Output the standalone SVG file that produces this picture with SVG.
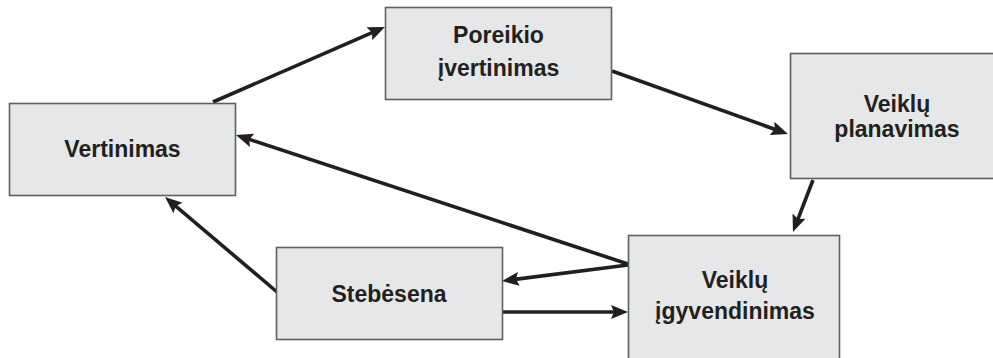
<svg xmlns="http://www.w3.org/2000/svg" width="993" height="358" viewBox="0 0 993 358">
<style>
.box{fill:#e6e7e8;stroke:#5f6062;stroke-width:1.6}
.lbl{font-family:"Liberation Sans",Arial,sans-serif;font-weight:bold;font-size:23px;fill:#231f20;text-anchor:middle}
.con{stroke:#231f20;stroke-width:3.6;fill:none;marker-end:url(#ah)}
</style>
<defs>
<marker id="ah" markerUnits="userSpaceOnUse" markerWidth="20" markerHeight="16" refX="8" refY="7" orient="auto" viewBox="0 0 20 16">
<path d="M0,0 L17,7 L0,14 L3,7 z" fill="#231f20"/>
</marker>
</defs>
<rect width="993" height="358" fill="#ffffff"/>
<g id="connectors">
<line class="con" x1="213" y1="102" x2="376.7" y2="30.6"/>
<line class="con" x1="612" y1="71" x2="779.5" y2="131"/>
<line class="con" x1="813" y1="180" x2="796.2" y2="223.6"/>
<line class="con" x1="628" y1="264" x2="244.5" y2="137.8"/>
<line class="con" x1="628" y1="265" x2="510.9" y2="279.9"/>
<line class="con" x1="502" y1="312" x2="619" y2="312"/>
<line class="con" x1="277" y1="292" x2="171.9" y2="202.8"/>
</g>
<g id="vertinimas">
<rect class="box" x="9.5" y="103.5" width="226" height="92"/>
<text class="lbl" x="122.5" y="157">Vertinimas</text>
</g>
<g id="poreikio">
<rect class="box" x="385.5" y="7.5" width="226" height="92"/>
<text class="lbl" x="498.5" y="43">Poreikio</text>
<text class="lbl" x="498.5" y="76">įvertinimas</text>
</g>
<g id="planavimas">
<rect class="box" x="790.5" y="53.5" width="213" height="125"/>
<text class="lbl" x="897" y="112">Veiklų</text>
<text class="lbl" x="897" y="137">planavimas</text>
</g>
<g id="igyvendinimas">
<rect class="box" x="628.5" y="235.5" width="211" height="130"/>
<text class="lbl" x="735" y="288">Veiklų</text>
<text class="lbl" x="735" y="319">įgyvendinimas</text>
</g>
<g id="stebesena">
<rect class="box" x="276.5" y="247.5" width="226" height="92"/>
<text class="lbl" x="389" y="302">Stebėsena</text>
</g>
</svg>
